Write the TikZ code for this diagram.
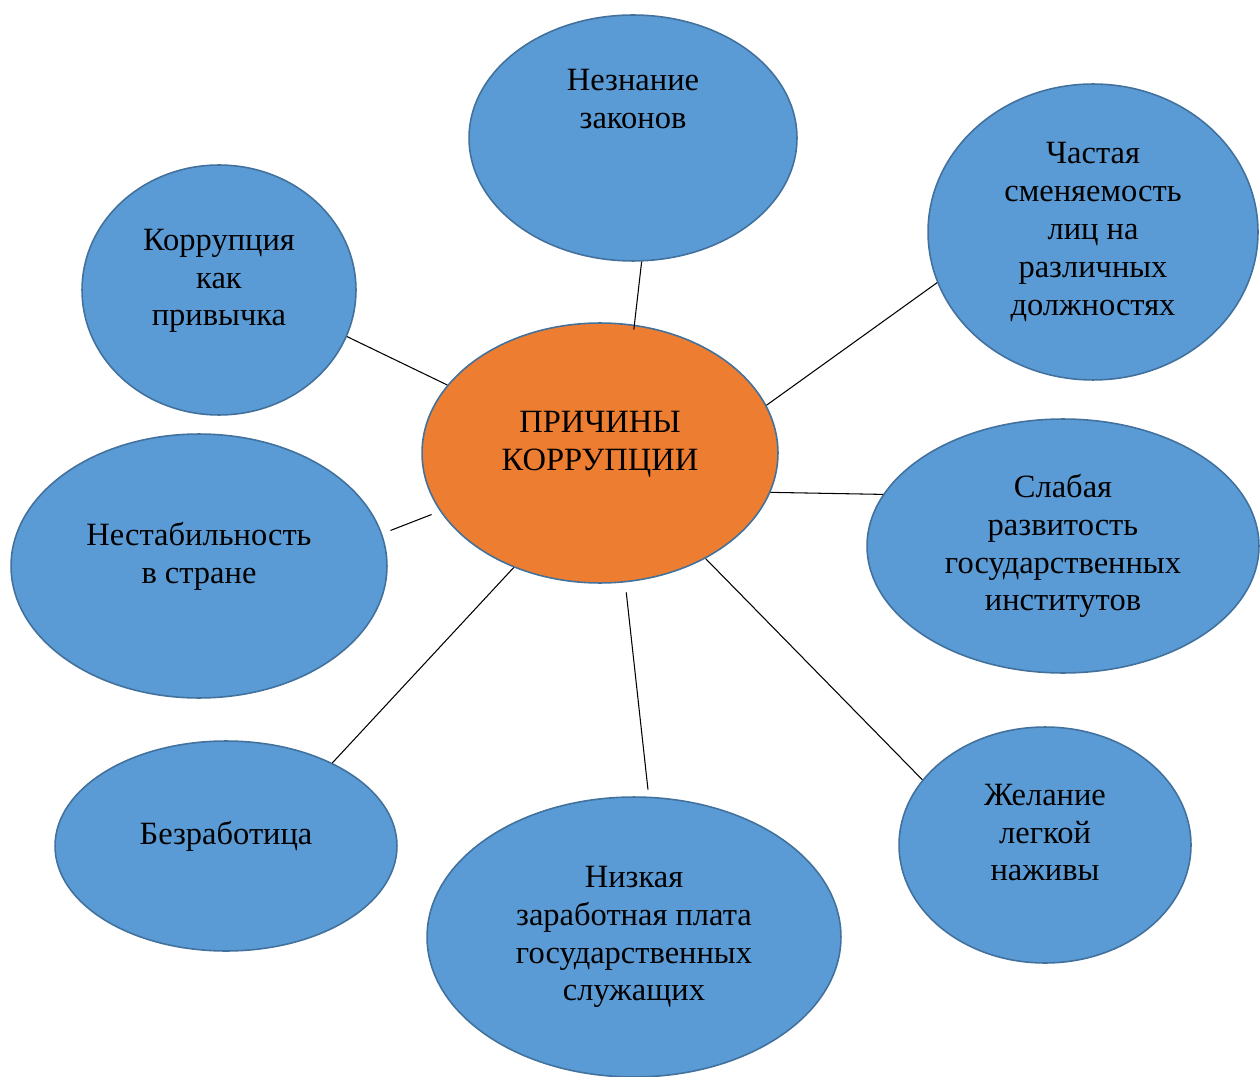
\documentclass[tikz,border=0pt]{standalone}
\usepackage{fontspec}
\setmainfont{Liberation Serif}
\usepackage{xcolor}
\usetikzlibrary{shapes.geometric}

\definecolor{causeblue}{HTML}{5B9BD5}
\definecolor{coreorange}{HTML}{ED7D31}
\definecolor{rimblue}{HTML}{41719C}

\begin{document}
\begin{tikzpicture}[
	  x=0.02cm, y=-0.02cm,
	  %style for the links
	  lnk/.style={line width=0.6pt, black},
      % style for the outer ellipses
      cause/.style={ellipse, fill=causeblue, draw=rimblue, line width=0.9pt,
                    inner sep=0pt, align=center, font=\fontsize{18.5}{21.5}\selectfont},
      % style for the middle ellipse
      core/.style={cause, fill=coreorange}]

      \useasboundingbox (0,0) rectangle (1260,1077);

      %nodes
      \node[core, minimum width=7.12cm, minimum height=5.2cm, text depth=0.5cm] (reasons) at (600,453) {ПРИЧИНЫ\\КОРРУПЦИИ};
      \node[cause, minimum width=6.56cm, minimum height=4.92cm, text depth=1.58cm] (laws) at (633,138) {Незнание\\законов};
      \node[cause, minimum width=6.6cm, minimum height=5.92cm] (rotation) at (1093,232) {Частая\\сменяемость\\лиц на\\различных\\должностях};
      \node[cause, minimum width=5.48cm, minimum height=5cm, text depth=0.5cm] (habit) at (219,290) {Коррупция\\как\\привычка};
      \node[cause, minimum width=7.52cm, minimum height=5.28cm, text depth=0.54cm] (instab) at (199,566) {Нестабильность\\в стране};
      \node[cause, minimum width=7.84cm, minimum height=5.08cm] (weak) at (1063,546) {Слабая\\развитость\\государственных\\институтов};
      \node[cause, minimum width=6.84cm, minimum height=4.2cm, text depth=0.54cm] (jobless) at (226,846) {Безработица};
      \node[cause, minimum width=8.28cm, minimum height=5.6cm] (salary) at (634,937) {Низкая\\заработная плата\\государственных\\служащих};
      \node[cause, minimum width=5.84cm, minimum height=4.72cm, text depth=0.5cm] (gain) at (1045,845) {Желание\\легкой\\наживы};

      %edges
      \draw[lnk, shorten <=-0.1cm] (reasons.75.7) -- (laws.-86.3);
      \draw[lnk] (reasons.16.2) -- (rotation.198.5);
      \draw[lnk] (reasons.156.9) -- (habit.-20.1);
      \draw[lnk, shorten <=0.18cm, shorten >=0.18cm] (reasons.200) -- (instab.10.7);
      \draw[lnk] (reasons.-13.9) -- (weak.164.8);
      \draw[lnk] (reasons.233.4) -- (jobless.38.9);
      \draw[lnk, shorten <=0.2cm, shorten >=0.14cm] (reasons.-79.8) -- (salary.84.9);
      \draw[lnk] (reasons.-45) -- (gain.152.7);
\end{tikzpicture}
\end{document}
